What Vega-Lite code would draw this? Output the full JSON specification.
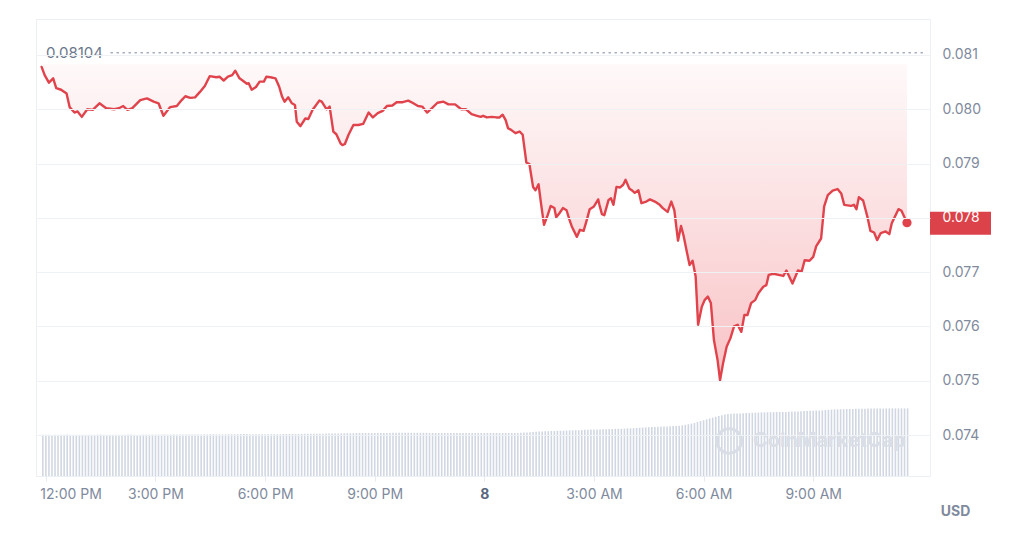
{
"$schema": "https://vega.github.io/schema/vega-lite/v6.json",
"width": 894,
"height": 457,
"padding": {"left": 36, "top": 19, "right": 0, "bottom": 0},
"autosize": {"type": "pad"},
"background": "white",
"config": {"view": {"stroke": "#eceff4"}, "font": "Inter", "text": {"font": "Inter"}},
"datasets": {
"price": [
{"t":"2024-01-07T11:53","p":0.08078},{"t":"2024-01-07T11:58","p":0.08063},{"t":"2024-01-07T12:05","p":0.08049},{"t":"2024-01-07T12:12","p":0.08057},{"t":"2024-01-07T12:17","p":0.08039},{"t":"2024-01-07T12:25","p":0.08036},{"t":"2024-01-07T12:34","p":0.08029},{"t":"2024-01-07T12:39","p":0.08004},{"t":"2024-01-07T12:47","p":0.07994},{"t":"2024-01-07T12:52","p":0.07996},{"t":"2024-01-07T12:59","p":0.07986},{"t":"2024-01-07T13:08","p":0.08000},{"t":"2024-01-07T13:17","p":0.07999},{"t":"2024-01-07T13:28","p":0.08011},{"t":"2024-01-07T13:39","p":0.08002},{"t":"2024-01-07T13:52","p":0.08000},{"t":"2024-01-07T14:00","p":0.08002},{"t":"2024-01-07T14:07","p":0.08006},{"t":"2024-01-07T14:14","p":0.07999},{"t":"2024-01-07T14:22","p":0.08002},{"t":"2024-01-07T14:35","p":0.08017},{"t":"2024-01-07T14:46","p":0.08020},{"t":"2024-01-07T14:57","p":0.08014},{"t":"2024-01-07T15:05","p":0.08011},{"t":"2024-01-07T15:13","p":0.07988},{"t":"2024-01-07T15:24","p":0.08004},{"t":"2024-01-07T15:35","p":0.08006},{"t":"2024-01-07T15:43","p":0.08017},{"t":"2024-01-07T15:49","p":0.08024},{"t":"2024-01-07T15:57","p":0.08021},
{"t":"2024-01-07T16:05","p":0.08022},{"t":"2024-01-07T16:13","p":0.08032},{"t":"2024-01-07T16:21","p":0.08043},{"t":"2024-01-07T16:29","p":0.08061},{"t":"2024-01-07T16:40","p":0.08059},{"t":"2024-01-07T16:45","p":0.08060},{"t":"2024-01-07T16:52","p":0.08053},{"t":"2024-01-07T16:59","p":0.08060},{"t":"2024-01-07T17:06","p":0.08063},{"t":"2024-01-07T17:11","p":0.08071},{"t":"2024-01-07T17:18","p":0.08057},{"t":"2024-01-07T17:23","p":0.08053},{"t":"2024-01-07T17:30","p":0.08047},{"t":"2024-01-07T17:33","p":0.08048},{"t":"2024-01-07T17:38","p":0.08036},{"t":"2024-01-07T17:45","p":0.08041},{"t":"2024-01-07T17:51","p":0.08051},{"t":"2024-01-07T17:58","p":0.08051},{"t":"2024-01-07T18:02","p":0.08060},{"t":"2024-01-07T18:09","p":0.08059},{"t":"2024-01-07T18:17","p":0.08057},{"t":"2024-01-07T18:23","p":0.08042},{"t":"2024-01-07T18:28","p":0.08023},{"t":"2024-01-07T18:32","p":0.08014},{"t":"2024-01-07T18:38","p":0.08022},{"t":"2024-01-07T18:44","p":0.08011},{"t":"2024-01-07T18:49","p":0.08008},{"t":"2024-01-07T18:52","p":0.07977},{"t":"2024-01-07T18:58","p":0.07969},{"t":"2024-01-07T19:06","p":0.07983},
{"t":"2024-01-07T19:11","p":0.07982},{"t":"2024-01-07T19:18","p":0.07999},{"t":"2024-01-07T19:22","p":0.08005},{"t":"2024-01-07T19:29","p":0.08016},{"t":"2024-01-07T19:33","p":0.08014},{"t":"2024-01-07T19:41","p":0.08000},{"t":"2024-01-07T19:46","p":0.08005},{"t":"2024-01-07T19:52","p":0.07959},{"t":"2024-01-07T19:57","p":0.07954},{"t":"2024-01-07T20:04","p":0.07937},{"t":"2024-01-07T20:07","p":0.07934},{"t":"2024-01-07T20:11","p":0.07936},{"t":"2024-01-07T20:17","p":0.07953},{"t":"2024-01-07T20:25","p":0.07971},{"t":"2024-01-07T20:33","p":0.07971},{"t":"2024-01-07T20:41","p":0.07973},{"t":"2024-01-07T20:50","p":0.07994},{"t":"2024-01-07T20:57","p":0.07985},{"t":"2024-01-07T21:05","p":0.07993},{"t":"2024-01-07T21:13","p":0.07997},{"t":"2024-01-07T21:20","p":0.08006},{"t":"2024-01-07T21:29","p":0.08007},{"t":"2024-01-07T21:36","p":0.08013},{"t":"2024-01-07T21:46","p":0.08013},{"t":"2024-01-07T21:55","p":0.08016},{"t":"2024-01-07T22:02","p":0.08012},{"t":"2024-01-07T22:11","p":0.08006},{"t":"2024-01-07T22:18","p":0.08005},{"t":"2024-01-07T22:26","p":0.07994},{"t":"2024-01-07T22:34","p":0.08002},
{"t":"2024-01-07T22:43","p":0.08012},{"t":"2024-01-07T22:53","p":0.08014},{"t":"2024-01-07T23:01","p":0.08009},{"t":"2024-01-07T23:12","p":0.08009},{"t":"2024-01-07T23:22","p":0.08000},{"t":"2024-01-07T23:30","p":0.08000},{"t":"2024-01-07T23:39","p":0.07991},{"t":"2024-01-07T23:48","p":0.07988},{"t":"2024-01-07T23:54","p":0.07986},{"t":"2024-01-07T23:58","p":0.07988},
{"t":"2024-01-08T00:04","p":0.07985},{"t":"2024-01-08T00:12","p":0.07986},{"t":"2024-01-08T00:20","p":0.07985},{"t":"2024-01-08T00:25","p":0.07985},{"t":"2024-01-08T00:30","p":0.07990},{"t":"2024-01-08T00:35","p":0.07980},{"t":"2024-01-08T00:39","p":0.07965},{"t":"2024-01-08T00:44","p":0.07962},{"t":"2024-01-08T00:51","p":0.07956},{"t":"2024-01-08T00:58","p":0.07959},{"t":"2024-01-08T01:03","p":0.07953},{"t":"2024-01-08T01:09","p":0.07902},{"t":"2024-01-08T01:14","p":0.07899},{"t":"2024-01-08T01:20","p":0.07857},{"t":"2024-01-08T01:24","p":0.07851},{"t":"2024-01-08T01:29","p":0.07862},{"t":"2024-01-08T01:33","p":0.07827},{"t":"2024-01-08T01:38","p":0.07787},{"t":"2024-01-08T01:44","p":0.07805},{"t":"2024-01-08T01:49","p":0.07822},{"t":"2024-01-08T01:55","p":0.07818},{"t":"2024-01-08T01:58","p":0.07801},{"t":"2024-01-08T02:03","p":0.07808},{"t":"2024-01-08T02:09","p":0.07818},{"t":"2024-01-08T02:15","p":0.07814},{"t":"2024-01-08T02:20","p":0.07796},{"t":"2024-01-08T02:24","p":0.07783},{"t":"2024-01-08T02:32","p":0.07765},{"t":"2024-01-08T02:37","p":0.07778},{"t":"2024-01-08T02:43","p":0.07776},
{"t":"2024-01-08T02:49","p":0.07799},{"t":"2024-01-08T02:53","p":0.07816},{"t":"2024-01-08T03:00","p":0.07821},{"t":"2024-01-08T03:07","p":0.07834},{"t":"2024-01-08T03:09","p":0.07824},{"t":"2024-01-08T03:13","p":0.07807},{"t":"2024-01-08T03:17","p":0.07805},{"t":"2024-01-08T03:24","p":0.07833},{"t":"2024-01-08T03:28","p":0.07836},{"t":"2024-01-08T03:32","p":0.07824},{"t":"2024-01-08T03:37","p":0.07857},{"t":"2024-01-08T03:43","p":0.07856},{"t":"2024-01-08T03:48","p":0.07861},{"t":"2024-01-08T03:52","p":0.07870},{"t":"2024-01-08T03:58","p":0.07854},{"t":"2024-01-08T04:02","p":0.07851},{"t":"2024-01-08T04:07","p":0.07846},{"t":"2024-01-08T04:13","p":0.07851},{"t":"2024-01-08T04:18","p":0.07827},{"t":"2024-01-08T04:26","p":0.07830},{"t":"2024-01-08T04:32","p":0.07834},{"t":"2024-01-08T04:40","p":0.07830},{"t":"2024-01-08T04:48","p":0.07824},{"t":"2024-01-08T04:53","p":0.07818},{"t":"2024-01-08T05:01","p":0.07811},{"t":"2024-01-08T05:07","p":0.07830},{"t":"2024-01-08T05:12","p":0.07814},{"t":"2024-01-08T05:18","p":0.07758},{"t":"2024-01-08T05:23","p":0.07785},{"t":"2024-01-08T05:27","p":0.07768},
{"t":"2024-01-08T05:33","p":0.07735},{"t":"2024-01-08T05:37","p":0.07713},{"t":"2024-01-08T05:42","p":0.07721},{"t":"2024-01-08T05:47","p":0.07692},{"t":"2024-01-08T05:51","p":0.07603},{"t":"2024-01-08T05:57","p":0.07636},{"t":"2024-01-08T06:02","p":0.07649},{"t":"2024-01-08T06:07","p":0.07655},{"t":"2024-01-08T06:12","p":0.07643},{"t":"2024-01-08T06:17","p":0.07575},{"t":"2024-01-08T06:23","p":0.07538},{"t":"2024-01-08T06:27","p":0.07501},{"t":"2024-01-08T06:32","p":0.07532},{"t":"2024-01-08T06:38","p":0.07563},{"t":"2024-01-08T06:44","p":0.07578},{"t":"2024-01-08T06:50","p":0.07600},{"t":"2024-01-08T06:56","p":0.07603},{"t":"2024-01-08T07:02","p":0.07590},{"t":"2024-01-08T07:07","p":0.07621},{"t":"2024-01-08T07:12","p":0.07621},{"t":"2024-01-08T07:18","p":0.07643},{"t":"2024-01-08T07:25","p":0.07649},{"t":"2024-01-08T07:30","p":0.07661},{"t":"2024-01-08T07:38","p":0.07673},{"t":"2024-01-08T07:43","p":0.07676},{"t":"2024-01-08T07:47","p":0.07695},{"t":"2024-01-08T07:55","p":0.07697},{"t":"2024-01-08T08:03","p":0.07695},{"t":"2024-01-08T08:11","p":0.07693},{"t":"2024-01-08T08:16","p":0.07703},
{"t":"2024-01-08T08:26","p":0.07679},{"t":"2024-01-08T08:35","p":0.07703},{"t":"2024-01-08T08:41","p":0.07701},{"t":"2024-01-08T08:46","p":0.07722},{"t":"2024-01-08T08:54","p":0.07721},{"t":"2024-01-08T09:00","p":0.07728},{"t":"2024-01-08T09:05","p":0.07748},{"t":"2024-01-08T09:13","p":0.07762},{"t":"2024-01-08T09:18","p":0.07821},{"t":"2024-01-08T09:24","p":0.07842},{"t":"2024-01-08T09:32","p":0.07850},{"t":"2024-01-08T09:40","p":0.07853},{"t":"2024-01-08T09:46","p":0.07845},{"t":"2024-01-08T09:51","p":0.07824},{"t":"2024-01-08T10:02","p":0.07822},{"t":"2024-01-08T10:07","p":0.07824},{"t":"2024-01-08T10:11","p":0.07816},{"t":"2024-01-08T10:15","p":0.07838},{"t":"2024-01-08T10:22","p":0.07832},{"t":"2024-01-08T10:29","p":0.07802},{"t":"2024-01-08T10:34","p":0.07776},{"t":"2024-01-08T10:40","p":0.07773},{"t":"2024-01-08T10:45","p":0.07759},{"t":"2024-01-08T10:51","p":0.07772},{"t":"2024-01-08T10:59","p":0.07775},{"t":"2024-01-08T11:05","p":0.07770},{"t":"2024-01-08T11:09","p":0.07790},{"t":"2024-01-08T11:20","p":0.07816},{"t":"2024-01-08T11:25","p":0.07813},{"t":"2024-01-08T11:34","p":0.07791}
],
"last": [{"t":"2024-01-08T11:34","p":0.07791}],
"high": [{"t":"2024-01-07T11:52","tEnd":"2024-01-08T12:03","lineStart":"2024-01-07T13:47","p":0.08104,"label":"0.08104"}],
"mark": [{"t":"2024-01-08T06:42","tText":"2024-01-08T07:21","p":0.07389,"label":"CoinMarketCap"}],
"vol": [
{"t":"2024-01-07T11:55","v":206},{"t":"2024-01-07T12:00","v":206},{"t":"2024-01-07T12:05","v":206},{"t":"2024-01-07T12:10","v":205},{"t":"2024-01-07T12:15","v":206},{"t":"2024-01-07T12:20","v":206},{"t":"2024-01-07T12:25","v":206},{"t":"2024-01-07T12:30","v":206},{"t":"2024-01-07T12:35","v":207},{"t":"2024-01-07T12:40","v":206},{"t":"2024-01-07T12:45","v":206},{"t":"2024-01-07T12:50","v":206},{"t":"2024-01-07T12:55","v":206},
{"t":"2024-01-07T13:00","v":206},{"t":"2024-01-07T13:05","v":206},{"t":"2024-01-07T13:10","v":206},{"t":"2024-01-07T13:15","v":206},{"t":"2024-01-07T13:20","v":206},{"t":"2024-01-07T13:25","v":207},{"t":"2024-01-07T13:30","v":207},{"t":"2024-01-07T13:35","v":206},{"t":"2024-01-07T13:40","v":206},{"t":"2024-01-07T13:45","v":206},{"t":"2024-01-07T13:50","v":206},{"t":"2024-01-07T13:55","v":206},
{"t":"2024-01-07T14:00","v":206},{"t":"2024-01-07T14:05","v":206},{"t":"2024-01-07T14:10","v":206},{"t":"2024-01-07T14:15","v":207},{"t":"2024-01-07T14:20","v":207},{"t":"2024-01-07T14:25","v":206},{"t":"2024-01-07T14:30","v":206},{"t":"2024-01-07T14:35","v":206},{"t":"2024-01-07T14:40","v":207},{"t":"2024-01-07T14:45","v":207},{"t":"2024-01-07T14:50","v":207},{"t":"2024-01-07T14:55","v":207},
{"t":"2024-01-07T15:00","v":207},{"t":"2024-01-07T15:05","v":207},{"t":"2024-01-07T15:10","v":207},{"t":"2024-01-07T15:15","v":207},{"t":"2024-01-07T15:20","v":207},{"t":"2024-01-07T15:25","v":207},{"t":"2024-01-07T15:30","v":208},{"t":"2024-01-07T15:35","v":208},{"t":"2024-01-07T15:40","v":208},{"t":"2024-01-07T15:45","v":208},{"t":"2024-01-07T15:50","v":208},{"t":"2024-01-07T15:55","v":208},
{"t":"2024-01-07T16:00","v":208},{"t":"2024-01-07T16:05","v":208},{"t":"2024-01-07T16:10","v":208},{"t":"2024-01-07T16:15","v":208},{"t":"2024-01-07T16:20","v":208},{"t":"2024-01-07T16:25","v":208},{"t":"2024-01-07T16:30","v":209},{"t":"2024-01-07T16:35","v":209},{"t":"2024-01-07T16:40","v":208},{"t":"2024-01-07T16:45","v":208},{"t":"2024-01-07T16:50","v":208},{"t":"2024-01-07T16:55","v":208},
{"t":"2024-01-07T17:00","v":209},{"t":"2024-01-07T17:05","v":209},{"t":"2024-01-07T17:10","v":209},{"t":"2024-01-07T17:15","v":209},{"t":"2024-01-07T17:20","v":210},{"t":"2024-01-07T17:25","v":210},{"t":"2024-01-07T17:30","v":210},{"t":"2024-01-07T17:35","v":209},{"t":"2024-01-07T17:40","v":209},{"t":"2024-01-07T17:45","v":209},{"t":"2024-01-07T17:50","v":209},{"t":"2024-01-07T17:55","v":209},
{"t":"2024-01-07T18:00","v":209},{"t":"2024-01-07T18:05","v":209},{"t":"2024-01-07T18:10","v":209},{"t":"2024-01-07T18:15","v":209},{"t":"2024-01-07T18:20","v":209},{"t":"2024-01-07T18:25","v":209},{"t":"2024-01-07T18:30","v":210},{"t":"2024-01-07T18:35","v":210},{"t":"2024-01-07T18:40","v":210},{"t":"2024-01-07T18:45","v":210},{"t":"2024-01-07T18:50","v":210},{"t":"2024-01-07T18:55","v":210},
{"t":"2024-01-07T19:00","v":211},{"t":"2024-01-07T19:05","v":211},{"t":"2024-01-07T19:10","v":211},{"t":"2024-01-07T19:15","v":211},{"t":"2024-01-07T19:20","v":211},{"t":"2024-01-07T19:25","v":211},{"t":"2024-01-07T19:30","v":211},{"t":"2024-01-07T19:35","v":211},{"t":"2024-01-07T19:40","v":212},{"t":"2024-01-07T19:45","v":212},{"t":"2024-01-07T19:50","v":212},{"t":"2024-01-07T19:55","v":212},
{"t":"2024-01-07T20:00","v":213},{"t":"2024-01-07T20:05","v":213},{"t":"2024-01-07T20:10","v":214},{"t":"2024-01-07T20:15","v":214},{"t":"2024-01-07T20:20","v":214},{"t":"2024-01-07T20:25","v":214},{"t":"2024-01-07T20:30","v":215},{"t":"2024-01-07T20:35","v":215},{"t":"2024-01-07T20:40","v":215},{"t":"2024-01-07T20:45","v":215},{"t":"2024-01-07T20:50","v":215},{"t":"2024-01-07T20:55","v":215},
{"t":"2024-01-07T21:00","v":215},{"t":"2024-01-07T21:05","v":215},{"t":"2024-01-07T21:10","v":215},{"t":"2024-01-07T21:15","v":215},{"t":"2024-01-07T21:20","v":215},{"t":"2024-01-07T21:25","v":215},{"t":"2024-01-07T21:30","v":216},{"t":"2024-01-07T21:35","v":216},{"t":"2024-01-07T21:40","v":216},{"t":"2024-01-07T21:45","v":216},{"t":"2024-01-07T21:50","v":216},{"t":"2024-01-07T21:55","v":216},
{"t":"2024-01-07T22:00","v":216},{"t":"2024-01-07T22:05","v":216},{"t":"2024-01-07T22:10","v":216},{"t":"2024-01-07T22:15","v":216},{"t":"2024-01-07T22:20","v":216},{"t":"2024-01-07T22:25","v":216},{"t":"2024-01-07T22:30","v":215},{"t":"2024-01-07T22:35","v":215},{"t":"2024-01-07T22:40","v":215},{"t":"2024-01-07T22:45","v":215},{"t":"2024-01-07T22:50","v":215},{"t":"2024-01-07T22:55","v":215},
{"t":"2024-01-07T23:00","v":215},{"t":"2024-01-07T23:05","v":215},{"t":"2024-01-07T23:10","v":215},{"t":"2024-01-07T23:15","v":215},{"t":"2024-01-07T23:20","v":215},{"t":"2024-01-07T23:25","v":215},{"t":"2024-01-07T23:30","v":215},{"t":"2024-01-07T23:35","v":215},{"t":"2024-01-07T23:40","v":215},{"t":"2024-01-07T23:45","v":215},{"t":"2024-01-07T23:50","v":215},{"t":"2024-01-07T23:55","v":215},
{"t":"2024-01-08T00:00","v":215},{"t":"2024-01-08T00:05","v":215},{"t":"2024-01-08T00:10","v":215},{"t":"2024-01-08T00:15","v":215},{"t":"2024-01-08T00:20","v":215},{"t":"2024-01-08T00:25","v":215},{"t":"2024-01-08T00:30","v":215},{"t":"2024-01-08T00:35","v":215},{"t":"2024-01-08T00:40","v":215},{"t":"2024-01-08T00:45","v":215},{"t":"2024-01-08T00:50","v":215},{"t":"2024-01-08T00:55","v":215},
{"t":"2024-01-08T01:00","v":216},{"t":"2024-01-08T01:05","v":217},{"t":"2024-01-08T01:10","v":218},{"t":"2024-01-08T01:15","v":219},{"t":"2024-01-08T01:20","v":220},{"t":"2024-01-08T01:25","v":221},{"t":"2024-01-08T01:30","v":222},{"t":"2024-01-08T01:35","v":223},{"t":"2024-01-08T01:40","v":224},{"t":"2024-01-08T01:45","v":224},{"t":"2024-01-08T01:50","v":225},{"t":"2024-01-08T01:55","v":225},
{"t":"2024-01-08T02:00","v":226},{"t":"2024-01-08T02:05","v":226},{"t":"2024-01-08T02:10","v":227},{"t":"2024-01-08T02:15","v":227},{"t":"2024-01-08T02:20","v":228},{"t":"2024-01-08T02:25","v":228},{"t":"2024-01-08T02:30","v":229},{"t":"2024-01-08T02:35","v":229},{"t":"2024-01-08T02:40","v":230},{"t":"2024-01-08T02:45","v":231},{"t":"2024-01-08T02:50","v":231},{"t":"2024-01-08T02:55","v":232},
{"t":"2024-01-08T03:00","v":232},{"t":"2024-01-08T03:05","v":233},{"t":"2024-01-08T03:10","v":233},{"t":"2024-01-08T03:15","v":234},{"t":"2024-01-08T03:20","v":234},{"t":"2024-01-08T03:25","v":235},{"t":"2024-01-08T03:30","v":235},{"t":"2024-01-08T03:35","v":236},{"t":"2024-01-08T03:40","v":236},{"t":"2024-01-08T03:45","v":236},{"t":"2024-01-08T03:50","v":237},{"t":"2024-01-08T03:55","v":238},
{"t":"2024-01-08T04:00","v":238},{"t":"2024-01-08T04:05","v":239},{"t":"2024-01-08T04:10","v":240},{"t":"2024-01-08T04:15","v":241},{"t":"2024-01-08T04:20","v":242},{"t":"2024-01-08T04:25","v":243},{"t":"2024-01-08T04:30","v":244},{"t":"2024-01-08T04:35","v":245},{"t":"2024-01-08T04:40","v":245},{"t":"2024-01-08T04:45","v":246},{"t":"2024-01-08T04:50","v":247},{"t":"2024-01-08T04:55","v":247},
{"t":"2024-01-08T05:00","v":248},{"t":"2024-01-08T05:05","v":249},{"t":"2024-01-08T05:10","v":250},{"t":"2024-01-08T05:15","v":250},{"t":"2024-01-08T05:20","v":251},{"t":"2024-01-08T05:25","v":253},{"t":"2024-01-08T05:30","v":256},{"t":"2024-01-08T05:35","v":259},{"t":"2024-01-08T05:40","v":262},{"t":"2024-01-08T05:45","v":265},{"t":"2024-01-08T05:50","v":270},{"t":"2024-01-08T05:55","v":275},
{"t":"2024-01-08T06:00","v":279},{"t":"2024-01-08T06:05","v":283},{"t":"2024-01-08T06:10","v":288},{"t":"2024-01-08T06:15","v":292},{"t":"2024-01-08T06:20","v":296},{"t":"2024-01-08T06:25","v":300},{"t":"2024-01-08T06:30","v":304},{"t":"2024-01-08T06:35","v":308},{"t":"2024-01-08T06:40","v":310},{"t":"2024-01-08T06:45","v":311},{"t":"2024-01-08T06:50","v":312},{"t":"2024-01-08T06:55","v":313},
{"t":"2024-01-08T07:00","v":313},{"t":"2024-01-08T07:05","v":314},{"t":"2024-01-08T07:10","v":315},{"t":"2024-01-08T07:15","v":315},{"t":"2024-01-08T07:20","v":316},{"t":"2024-01-08T07:25","v":317},{"t":"2024-01-08T07:30","v":317},{"t":"2024-01-08T07:35","v":318},{"t":"2024-01-08T07:40","v":318},{"t":"2024-01-08T07:45","v":319},{"t":"2024-01-08T07:50","v":319},{"t":"2024-01-08T07:55","v":319},
{"t":"2024-01-08T08:00","v":320},{"t":"2024-01-08T08:05","v":320},{"t":"2024-01-08T08:10","v":320},{"t":"2024-01-08T08:15","v":320},{"t":"2024-01-08T08:20","v":321},{"t":"2024-01-08T08:25","v":322},{"t":"2024-01-08T08:30","v":322},{"t":"2024-01-08T08:35","v":323},{"t":"2024-01-08T08:40","v":324},{"t":"2024-01-08T08:45","v":325},{"t":"2024-01-08T08:50","v":325},{"t":"2024-01-08T08:55","v":326},
{"t":"2024-01-08T09:00","v":326},{"t":"2024-01-08T09:05","v":327},{"t":"2024-01-08T09:10","v":327},{"t":"2024-01-08T09:15","v":328},{"t":"2024-01-08T09:20","v":330},{"t":"2024-01-08T09:25","v":331},{"t":"2024-01-08T09:30","v":332},{"t":"2024-01-08T09:35","v":333},{"t":"2024-01-08T09:40","v":333},{"t":"2024-01-08T09:45","v":334},{"t":"2024-01-08T09:50","v":334},{"t":"2024-01-08T09:55","v":335},
{"t":"2024-01-08T10:00","v":335},{"t":"2024-01-08T10:05","v":335},{"t":"2024-01-08T10:10","v":336},{"t":"2024-01-08T10:15","v":336},{"t":"2024-01-08T10:20","v":336},{"t":"2024-01-08T10:25","v":336},{"t":"2024-01-08T10:30","v":337},{"t":"2024-01-08T10:35","v":337},{"t":"2024-01-08T10:40","v":337},{"t":"2024-01-08T10:45","v":337},{"t":"2024-01-08T10:50","v":337},{"t":"2024-01-08T10:55","v":337},
{"t":"2024-01-08T11:00","v":338},{"t":"2024-01-08T11:05","v":338},{"t":"2024-01-08T11:10","v":338},{"t":"2024-01-08T11:15","v":338},{"t":"2024-01-08T11:20","v":338},{"t":"2024-01-08T11:25","v":338},{"t":"2024-01-08T11:30","v":338},{"t":"2024-01-08T11:35","v":338}
]
},
"encoding": {
"x": {
"field": "t", "type": "temporal",
"scale": {"domain": [{"year":2024,"month":1,"date":7,"hours":11,"minutes":52}, {"year":2024,"month":1,"date":8,"hours":12,"minutes":3,"seconds":36}]},
"axis": {
"title": null,
"values": [{"year":2024,"month":1,"date":7,"hours":12},{"year":2024,"month":1,"date":7,"hours":15},{"year":2024,"month":1,"date":7,"hours":18},{"year":2024,"month":1,"date":7,"hours":21},{"year":2024,"month":1,"date":8,"hours":0},{"year":2024,"month":1,"date":8,"hours":3},{"year":2024,"month":1,"date":8,"hours":6},{"year":2024,"month":1,"date":8,"hours":9}],
"labelExpr": "hours(datum.value) === 0 ? timeFormat(datum.value, '%-d') : timeFormat(datum.value, '%-I:%M %p')",
"labelFontSize": 14,
"labelFont": "Inter",
"labelColor": {"condition": {"test": "hours(datum.value) === 0", "value": "#58667e"}, "value": "#808a9d"},
"labelFontWeight": {"condition": {"test": "hours(datum.value) === 0", "value": "bold"}, "value": "normal"},
"labelAlign": {"condition": {"test": "hours(datum.value) === 12", "value": "left"}, "value": "center"},
"labelOffset": {"condition": {"test": "hours(datum.value) === 12", "value": -6}, "value": 0},
"labelFlush": false,
"labelBound": false,
"grid": false,
"domain": false,
"tickSize": 5,
"tickColor": "#e6e9ef",
"labelPadding": 6
}
}
},
"layer": [
{
"data": {"name": "vol"},
"mark": {"type": "bar", "width": 1.6, "color": "#d1d7e2"},
"encoding": {"y": {"field": "v", "type": "quantitative", "scale": {"domain": [0, 2285], "nice": false, "zero": true}, "axis": null}}
},
{
"layer": [
{
"data": {"name": "price"},
"mark": {"type": "area", "line": false, "fill": {"gradient": "linear", "x1": 0, "y1": 0, "x2": 0, "y2": 1, "stops": [{"offset": 0, "color": "rgba(234,57,67,0.03)"}, {"offset": 1, "color": "rgba(234,57,67,0.3)"}]}},
"encoding": {
"y": {"field": "p", "type": "quantitative", "scale": {"domain": [0.073245, 0.081663], "nice": false, "zero": false},
"axis": {"orient": "right", "values": [0.074, 0.075, 0.076, 0.077, 0.078, 0.079, 0.08, 0.081], "format": ".3f", "grid": true, "gridColor": "#eff2f5", "domain": false, "ticks": false, "labelPadding": 12, "labelFontSize": 14, "labelFont": "Inter",
"labelColor": {"condition": {"test": "abs(datum.value - 0.078) < 0.00001", "value": "#ffffff"}, "value": "#808a9d"}, "zindex": 1,
"title": "USD", "titleAngle": 0, "titleX": 25, "titleY": 492, "titleAlign": "center", "titleBaseline": "middle", "titleFontSize": 14, "titleFont": "Inter", "titleFontWeight": "bold", "titleColor": "#808a9d"}},
"y2": {"datum": 0.08083}
}
},
{
"data": {"name": "price"},
"mark": {"type": "line", "color": "#e0434b", "strokeWidth": 2.4, "strokeJoin": "round", "strokeCap": "round"},
"encoding": {"y": {"field": "p", "type": "quantitative"}}
},
{
"data": {"name": "high", "format": {"parse": {"lineStart": "date", "tEnd": "date"}}},
"mark": {"type": "rule", "color": "#a4abbd", "strokeWidth": 1.4, "strokeDash": [1.4, 4.6], "strokeCap": "round"},
"encoding": {
"x": {"field": "lineStart", "type": "temporal"},
"x2": {"field": "tEnd"},
"y": {"field": "p", "type": "quantitative"}
}
},
{
"data": {"name": "high"},
"mark": {"type": "text", "align": "left", "baseline": "middle", "dx": 5, "fontSize": 15, "font": "Inter", "color": "#6b778c"},
"encoding": {
"y": {"field": "p", "type": "quantitative"},
"text": {"field": "label"}
}
},
{
"data": {"name": "last"},
"mark": {"type": "point", "filled": true, "shape": "circle", "size": 85, "color": "#e0434b", "opacity": 1},
"encoding": {"y": {"field": "p", "type": "quantitative"}}
},
{
"data": {"name": "last"},
"mark": {"type": "rect", "color": "#dc4249", "x2Offset": 61, "yOffset": -11, "y2Offset": 12},
"encoding": {
"x": {"value": "width"},
"x2": {"value": "width"},
"y": {"field": "p", "type": "quantitative"},
"y2": {"field": "p"}
}
},
{
"data": {"name": "mark"},
"mark": {"type": "point", "shape": "circle", "filled": false, "size": 600, "strokeWidth": 3.2, "color": "#d9dde5", "opacity": 1},
"encoding": {
"y": {"field": "p", "type": "quantitative"}
}
},
{
"data": {"name": "mark", "format": {"parse": {"tText": "date"}}},
"mark": {"type": "text", "align": "left", "baseline": "middle", "fontSize": 20, "fontWeight": "bold", "font": "Inter", "color": "#dadee6"},
"encoding": {
"x": {"field": "tText", "type": "temporal"},
"y": {"field": "p", "type": "quantitative"},
"text": {"field": "label"}
}
}
]
}
],
"resolve": {"scale": {"y": "independent"}}
}
